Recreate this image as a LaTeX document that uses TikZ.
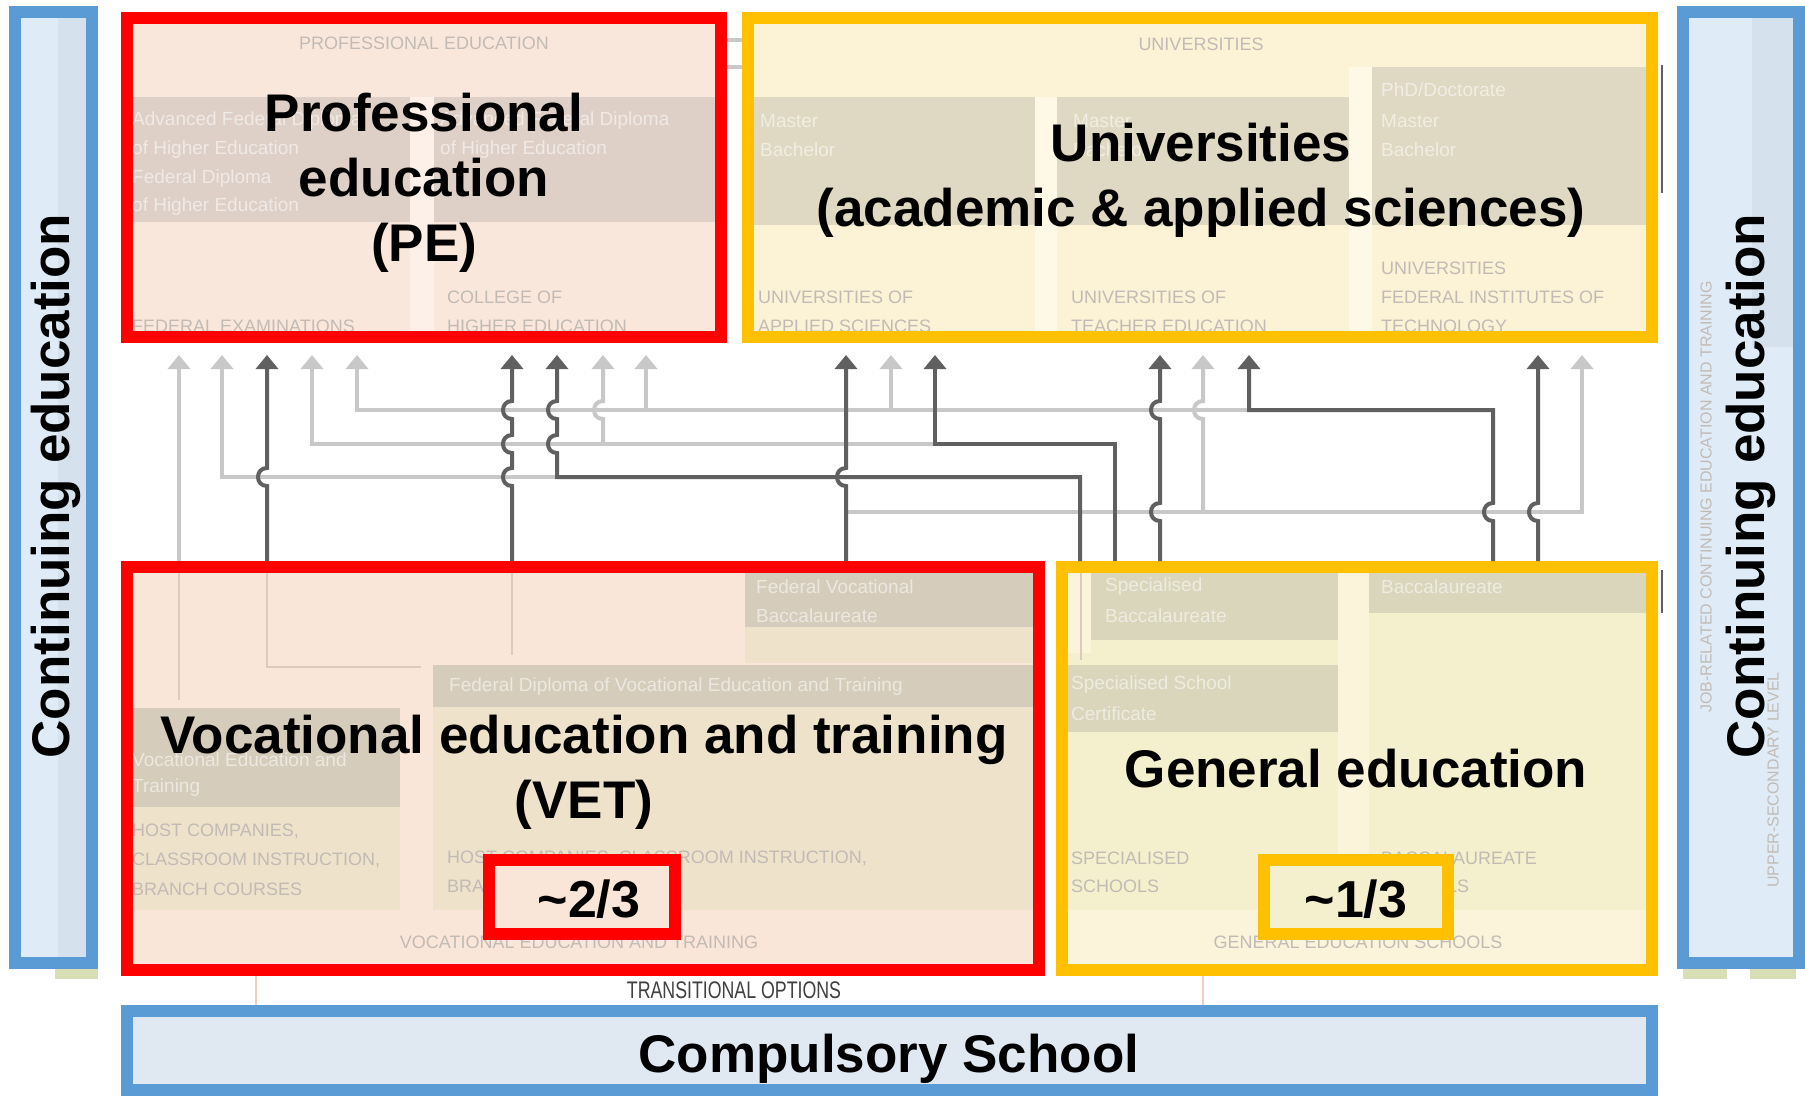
\documentclass[tikz,border=0pt]{standalone}
\usepackage{fontspec}
\setmainfont{Liberation Sans}
\newfontfamily\condfont[FakeStretch=0.74]{Liberation Sans}
\usetikzlibrary{arrows.meta}
\definecolor{cred}{HTML}{FF0000}
\definecolor{cyel}{HTML}{FFC000}
\definecolor{cblue}{HTML}{5B9BD5}
\definecolor{pebg}{HTML}{FAE7DC}
\definecolor{pelt}{HTML}{FCF0E9}
\definecolor{unibg}{HTML}{FCF2D6}
\definecolor{unilt}{HTML}{FEF8E6}
\definecolor{vetbg}{HTML}{FAE5D9}
\definecolor{vetgr}{HTML}{EEE2CB}
\definecolor{genbg}{HTML}{F4EFCD}
\definecolor{genlt}{HTML}{FBF3DA}
\definecolor{bluebg}{HTML}{DFECF7}
\definecolor{bluedk}{HTML}{D5E2EE}
\definecolor{compbg}{HTML}{E0E8F1}
\definecolor{darkln}{HTML}{606060}
\definecolor{lightln}{HTML}{C8C8C8}
\definecolor{hatchc}{HTML}{8C8C8C}
\definecolor{fgrey}{HTML}{C2BBB5}
\definecolor{pinkln}{HTML}{F3CDBF}
\definecolor{greenbit}{HTML}{D9DFB5}
\definecolor{thinln}{HTML}{DCCABF}
\newcommand\hopu[2]{-- (#1,#2+9) .. controls (#1-12,#2+9) and (#1-12,#2-9) .. (#1,#2-9)}
\begin{document}
\begin{tikzpicture}[x=1pt,y=-1pt,
  box/.style={draw=#1, line width=12pt, inner sep=0pt, outer sep=6pt},
  big/.style={font=\fontsize{53}{65}\selectfont\bfseries, align=center, inner sep=0pt},
  fw/.style={font=\fontsize{19}{22}\selectfont, text=white, text opacity=0.55, anchor=west, inner sep=0pt},
  fg/.style={font=\fontsize{18}{22}\selectfont, text=fgrey, anchor=west, inner sep=0pt},
  fgc/.style={fg, anchor=center},
  hatch/.style={fill=hatchc, fill opacity=0.25},
  lt/.style={draw=lightln, line width=4pt},
  dk/.style={draw=darkln, line width=4pt},
  ar/.style={-{Triangle[width=22pt,length=14pt]}, shorten >=12pt},
  thin/.style={draw=thinln, line width=1.5pt},
]
\useasboundingbox (0,0) rectangle (1805,1099);
\fill[white] (0,0) rectangle (1805,1099);

% ---------- background fills ----------
\fill[bluebg] (9,6) rectangle (98,969);
\fill[bluedk] (58,18) rectangle (86,960);
\fill[bluebg] (1677,6) rectangle (1805,969);
\fill[bluedk] (1752,18) rectangle (1797,347);
\fill[pebg] (121,12) rectangle (727,343);
\fill[pelt] (410,97) rectangle (434,334);
\fill[unibg] (742,12) rectangle (1658,343);
\fill[unilt] (1035,97) rectangle (1057,334);
\fill[unilt] (1349,67) rectangle (1372,334);
\fill[vetbg] (121,561) rectangle (1045,976);
\fill[vetgr] (745,570) rectangle (1036,663);
\fill[vetgr] (433,665) rectangle (1036,910);
\fill[vetgr] (130,708) rectangle (400,910);
\fill[genbg] (1056,561) rectangle (1658,976);
\fill[genlt] (1338,570) rectangle (1369,910);
\fill[genlt] (1065,910) rectangle (1650,966);
\fill[genlt] (1065,570) rectangle (1091,653);
\fill[compbg] (121,1005) rectangle (1658,1096);

% ---------- faded blocks of the underlying chart ----------
\fill[hatch] (132,97) rectangle (410,222);
\fill[hatch] (434,97) rectangle (716,222);
\fill[hatch] (754,97) rectangle (1035,225);
\fill[hatch] (1057,97) rectangle (1349,225);
\fill[hatch] (1372,67) rectangle (1646,225);
\fill[hatch] (745,570) rectangle (1036,627);
\fill[hatch] (433,665) rectangle (1036,707);
\fill[hatch] (130,708) rectangle (400,807);
\fill[hatch] (1091,570) rectangle (1338,640);
\fill[hatch] (1064,665) rectangle (1338,732);
\fill[hatch] (1369,570) rectangle (1647,613);

% small remnants of the underlying chart
\draw[lightln, line width=4pt] (727,40) -- (742,40);
\draw[lightln, line width=4pt] (727,67) -- (742,67);
\draw[darkln, line width=2pt] (1662,65) -- (1662,193);
\draw[darkln, line width=2pt] (1662,570) -- (1662,613);
\draw[pinkln, line width=1.5pt] (256,976) -- (256,1005);
\draw[pinkln, line width=1.5pt] (1203,976) -- (1203,1005);
\fill[greenbit] (55,969) rectangle (98,979);
\fill[greenbit] (1683,969) rectangle (1727,979);
\fill[greenbit] (1750,969) rectangle (1796,979);
\draw[thin] (179,570) -- (179,700);
\draw[thin] (267,570) -- (267,667) -- (421,667);
\draw[thin] (512,570) -- (512,655);
\draw[thin] (1081,570) -- (1081,660);

% ---------- faded texts ----------
\node[fgc] (pet) at (424,43) {PROFESSIONAL EDUCATION};
\foreach \x/\y/\t [count=\i] in {132/121/Advanced Federal Diploma, 132/150/of Higher Education,
   132/179/Federal Diploma, 132/207/of Higher Education, 440/121/Advanced Federal Diploma,
   440/150/of Higher Education}
  \node[fw] (pew\i) at (\x,\y) {\t};
\node[fg] (peg1) at (132,326) {FEDERAL EXAMINATIONS};
\node[fg] (peg2) at (447,297) {COLLEGE OF};
\node[fg] (peg3) at (447,326) {HIGHER EDUCATION};

\node[fgc] (unt) at (1201,44) {UNIVERSITIES};
\foreach \x/\y/\t [count=\i] in {760/121/Master, 760/150/Bachelor, 1073/121/Master,
   1073/150/Bachelor, 1381/121/Master, 1381/150/Bachelor}
  \node[fw] (unw\i) at (\x,\y) {\t};
\node[fw] (unphd) at (1381,90) {PhD/Doctorate};
\foreach \x/\y/\t [count=\i] in {758/297/UNIVERSITIES OF, 758/326/APPLIED SCIENCES,
   1071/297/UNIVERSITIES OF, 1071/326/TEACHER EDUCATION, 1381/268/UNIVERSITIES,
   1381/297/FEDERAL INSTITUTES OF, 1381/326/TECHNOLOGY}
  \node[fg] (ung\i) at (\x,\y) {\t};

\foreach \x/\y/\t [count=\i] in {756/587/Federal Vocational, 756/616/Baccalaureate,
   449/687/Federal Diploma of Vocational Education and Training,
   132/760/Vocational Education and, 132/788/Training}
  \node[fw] (vew\i) at (\x,\y) {\t};
\node[fg] (veg1) at (132,831) {HOST COMPANIES,};
\node[fg] (veg2) at (132,860) {CLASSROOM INSTRUCTION,};
\node[fg] (veg3) at (132,889) {BRANCH COURSES};
\node[fg] (veg4) at (447,858) {HOST COMPANIES, CLASSROOM INSTRUCTION,};
\node[fg] (veg5) at (447,886) {BRANCH COURSES};
\node[fgc] (vet0) at (579,942) {VOCATIONAL EDUCATION AND TRAINING};

\foreach \x/\y/\t [count=\i] in {1105/587/Specialised, 1105/616/Baccalaureate,
   1071/685/Specialised School, 1071/714/Certificate, 1381/587/Baccalaureate}
  \node[fw] (gew\i) at (\x,\y) {\t};
\foreach \x/\y/\t [count=\i] in {1071/858/SPECIALISED, 1071/886/SCHOOLS,
   1381/858/BACCALAUREATE, 1381/886/SCHOOLS}
  \node[fg] (geg\i) at (\x,\y) {\t};
\node[fgc] (get0) at (1358,942) {GENERAL EDUCATION SCHOOLS};

\node[fgc, font=\fontsize{16}{20}\selectfont, rotate=90] (rce1) at (1706,497) {JOB-RELATED CONTINUING EDUCATION AND TRAINING};
\node[fgc, font=\fontsize{16}{20}\selectfont, rotate=90] (rce2) at (1773,780) {UPPER-SECONDARY LEVEL};

\node[inner sep=0pt, text=black!75, font=\condfont\fontsize{24}{28}\selectfont] (trans) at (734,990) {TRANSITIONAL OPTIONS};

% ---------- the boxes ----------
\node[box=cblue, minimum width=77pt, minimum height=951pt] (cel) at (53.5,487.5) {};
\node[box=cblue, minimum width=116pt, minimum height=951pt] (cer) at (1741,487.5) {};
\node[box=cred, minimum width=594pt, minimum height=319pt] (pe) at (424,177.5) {};
\node[box=cyel, minimum width=904pt, minimum height=319pt] (uni) at (1200,177.5) {};
\node[box=cred, minimum width=912pt, minimum height=403pt] (vet) at (583,768.5) {};
\node[box=cyel, minimum width=590pt, minimum height=403pt] (gen) at (1357,768.5) {};
\node[box=cblue, minimum width=1525pt, minimum height=79pt] (comp) at (889.5,1050.5) {};

% ---------- connectors ----------
\coordinate (l2s) at (610,477);
\coordinate (l3s) at (935,444);
\coordinate (l4s) at (1249,410);
\coordinate (j603) at (603,444);
\coordinate (j646) at (646,410);
\coordinate (j891) at (891,410);
\coordinate (j846) at (846,512);
\coordinate (j1203) at (1203,512);
\draw[lt,ar] (vet.north -| 179,0) -- (pe.south -| 179,0);
\draw[lt,ar] (l2s) -- (222,477) -- (pe.south -| 222,0);
\draw[lt,ar] (l3s) -- (312,444) -- (pe.south -| 312,0);
\draw[lt,ar] (l4s) -- (357,410) -- (pe.south -| 357,0);
\draw[lt,ar] (j603) \hopu{603}{410} -- (pe.south -| 603,0);
\draw[lt,ar] (j646) -- (pe.south -| 646,0);
\draw[lt,ar] (j891) -- (uni.south -| 891,0);
\draw[lt,ar] (j846) -- (1582,512) -- (uni.south -| 1582,0);
\draw[lt,ar] (j1203) \hopu{1203}{410} -- (uni.south -| 1203,0);

\draw[dk,ar] (vet.north -| 267,0) \hopu{267}{477} -- (pe.south -| 267,0);
\draw[dk,ar] (vet.north -| 512,0) \hopu{512}{477} \hopu{512}{444} \hopu{512}{410} -- (pe.south -| 512,0);
\draw[dk,ar] (gen.north -| 1080,0) -- (1080,477) -- (557,477) \hopu{557}{444} \hopu{557}{410} -- (pe.south -| 557,0);
\draw[dk,ar] (vet.north -| 846,0) \hopu{846}{477} -- (uni.south -| 846,0);
\draw[dk,ar] (gen.north -| 1115,0) -- (1115,444) -- (935,444) -- (uni.south -| 935,0);
\draw[dk,ar] (gen.north -| 1160,0) \hopu{1160}{512} \hopu{1160}{410} -- (uni.south -| 1160,0);
\draw[dk,ar] (gen.north -| 1493,0) \hopu{1493}{512} -- (1493,410) -- (1249,410) -- (uni.south -| 1249,0);
\draw[dk,ar] (gen.north -| 1538,0) \hopu{1538}{512} -- (uni.south -| 1538,0);

% ---------- main labels ----------
\node[big] (pel) at (424,183) {Professional\\education\\(PE)};
\node[big] (unil) at (1201,180) {Universities\\(academic \& applied sciences)};
\node[big] (vetl) at (584,772) {Vocational education and training\\(VET)};
\node[big] (genl) at (1356,769) {General education};
\node[big] (compl) at (889,1059) {Compulsory School};
\node[big, rotate=90] (cell) at (56,486) {Continuing education};
\node[big, rotate=90] (cerl) at (1751,486) {Continuing education};
\node[box=cred, fill=vetbg, minimum width=186pt, minimum height=74pt] (two) at (582,897) {};
\node[big, font=\fontsize{52}{60}\selectfont\bfseries] (twol) at (589,899) {\textasciitilde 2/3};
\node[box=cyel, fill=genbg, minimum width=184pt, minimum height=74pt] (one) at (1356,897) {};
\node[big, font=\fontsize{52}{60}\selectfont\bfseries] (onel) at (1356,899) {\textasciitilde 1/3};
\end{tikzpicture}
\end{document}
